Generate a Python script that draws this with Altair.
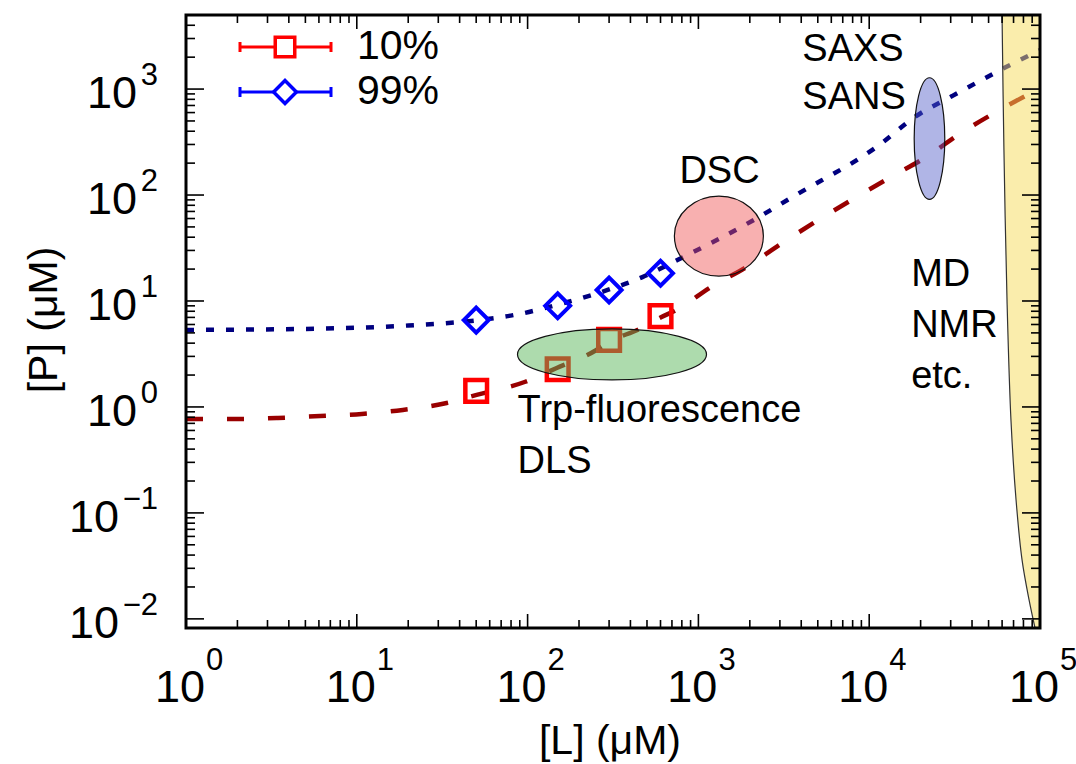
import altair as alt
import pandas as pd

# ---------------- data ----------------
L_points = [50, 150, 300, 600]
P_10 = [1.42, 2.27, 4.3, 7.2]
P_99 = [6.6, 9.0, 12.7, 18.3]

fit10_L = [1, 2, 3.45, 6.1, 10.7, 18.6, 33.6, 50.3, 96, 148, 253, 298, 452, 592, 743,
           1190, 1910, 3100, 13100, 21500, 34500, 55300, 100000]
fit10_P = [0.77, 0.77, 0.787, 0.822, 0.859, 0.937, 1.09, 1.30, 1.72, 2.33, 3.45, 4.1, 5.44, 6.91, 8.23,
           13.6, 20.9, 35.3, 145, 228, 385, 607, 1020]

fit99_L = [1, 4.64, 17.8, 52.4, 89.8, 148, 294, 470, 774, 2210, 3550, 11440, 18830, 30580, 63270, 100000]
fit99_P = [5.33, 5.44, 5.81, 6.62, 7.54, 9.17, 12.7, 16.8, 24.9, 60.7, 95.7, 296, 556, 859, 1613, 2333]

limit_P = [0.0082, 0.0151, 0.036, 0.133, 0.754, 10.2, 266, 5000]
limit_L = [93500, 86300, 78500, 72400, 67600, 64100, 61500, 59950]
L_max = 100000

ellipse_L = [312, 1318, 22540]
ellipse_P = [3.13, 41, 341]

label_text = ["SAXS", "SANS", "DSC", "Trp-fluorescence", "DLS", "MD", "NMR", "etc."]
label_L = [4060, 4060, 774, 87.4, 87.4, 17600, 17600, 17600]
label_P = [2330, 822, 165, 0.917, 0.303, 17.6, 5.81, 1.92]

x_major = [1, 10, 100, 1000, 10000, 100000]
x_exp = ["0", "1", "2", "3", "4", "5"]
y_major = [0.01, 0.1, 1, 10, 100, 1000]
y_exp = ["\u22122", "\u22121", "0", "1", "2", "3"]

legend_labels = ["10%", "99%"]

# ---------------- layout ----------------
W, H = 854, 613
FONT = "Liberation Sans"
xs = alt.Scale(type="log", domain=[1, 100000], nice=False)
ys = alt.Scale(type="log", domain=[0.0082, 5000], nice=False)


def X(f):
    return alt.X(f + ":Q", scale=xs, axis=None)


def Y(f):
    return alt.Y(f + ":Q", scale=ys, axis=None)


one = pd.DataFrame({"a": [0]})

layers = []

# fitted curves
df10 = pd.DataFrame({"L": fit10_L, "P": fit10_P})
df99 = pd.DataFrame({"L": fit99_L, "P": fit99_P})
layers.append(alt.Chart(df10).mark_line(color="#990000", strokeWidth=4.5, strokeDash=[17, 24],
                                         interpolate="monotone").encode(x=X("L"), y=Y("P")))
layers.append(alt.Chart(df99).mark_line(color="#00007f", strokeWidth=4.5, strokeDash=[8, 12],
                                         interpolate="monotone").encode(x=X("L"), y=Y("P")))

# markers
dpts = pd.DataFrame({"L": L_points, "P10": P_10, "P99": P_99})
layers.append(alt.Chart(dpts).mark_point(shape="square", filled=False, color="#ff0000", strokeWidth=4.5,
                                          size=470, opacity=1).encode(x=X("L"), y=Y("P10")))
layers.append(alt.Chart(dpts).mark_point(shape="diamond", filled=False, color="#0000ff", strokeWidth=4,
                                          size=620, opacity=1).encode(x=X("L"), y=Y("P99")))


# ellipses (semi-axes in pixels)
def ell_path(a, b):
    k = 0.5523
    f = lambda v: f"{v:.4f}"
    return (f"M{f(-a)},0C{f(-a)},{f(-k*b)} {f(-k*a)},{f(-b)} 0,{f(-b)}"
            f"C{f(k*a)},{f(-b)} {f(a)},{f(-k*b)} {f(a)},0"
            f"C{f(a)},{f(k*b)} {f(k*a)},{f(b)} 0,{f(b)}"
            f"C{f(-k*a)},{f(b)} {f(-a)},{f(k*b)} {f(-a)},0Z")


ell_style = [((94.5, 25.5), "#5cb85c", 0.5),
             ((44.5, 40.0), "#f05050", 0.45),
             ((15.3, 60.8), "#505ac8", 0.45)]
for i, ((rx, ry), col, op) in enumerate(ell_style):
    m = max(rx, ry)
    d = pd.DataFrame({"L": [ellipse_L[i]], "P": [ellipse_P[i]]})
    layers.append(alt.Chart(d).mark_point(shape=ell_path(rx / m, ry / m), size=(2 * m) ** 2, filled=True,
                                          fill=col, fillOpacity=op, stroke="#111111", strokeWidth=1.2,
                                          strokeOpacity=1, opacity=1).encode(x=X("L"), y=Y("P")))

# yellow limit region
dlim = pd.DataFrame({"L": limit_L, "P": limit_P, "Lmax": [L_max] * len(limit_L)})
layers.append(alt.Chart(dlim).mark_area(orient="horizontal", color="#f5dc5a", opacity=0.5,
                                         interpolate="catmull-rom").encode(
    y=Y("P"), x=X("L"), x2="Lmax:Q"))
layers.append(alt.Chart(dlim).mark_line(color="#333333", strokeWidth=1.2, interpolate="catmull-rom").encode(
    x=X("L"), y=Y("P"), order=alt.Order("P:Q")))

# annotations
dlab = pd.DataFrame({"t": label_text, "L": label_L, "P": label_P})
layers.append(alt.Chart(dlab).mark_text(align="left", baseline="middle", fontSize=38, font=FONT,
                                         color="black").encode(x=X("L"), y=Y("P"), text="t:N"))

# ticks (inward, mirrored)
x_minor = [m * 10 ** k for k in range(0, 5) for m in range(2, 10)]
y_minor = [m * 10.0 ** k for k in range(-2, 4) for m in range(2, 10) if m * 10.0 ** k < 5000]
dxM = pd.DataFrame({"v": x_major})
dxm = pd.DataFrame({"v": x_minor})
dyM = pd.DataFrame({"v": y_major})
dym = pd.DataFrame({"v": y_minor})
for dd, ln in ((dxM, 14), (dxm, 8)):
    layers.append(alt.Chart(dd).mark_rule(color="black", strokeWidth=1.6).encode(
        x=X("v"), y=alt.value(H), y2=alt.value(H - ln)))
    layers.append(alt.Chart(dd).mark_rule(color="black", strokeWidth=1.6).encode(
        x=X("v"), y=alt.value(0), y2=alt.value(ln)))
for dd, ln in ((dyM, 18), (dym, 9)):
    layers.append(alt.Chart(dd).mark_rule(color="black", strokeWidth=1.6).encode(
        y=Y("v"), x=alt.value(0), x2=alt.value(ln)))
    layers.append(alt.Chart(dd).mark_rule(color="black", strokeWidth=1.6).encode(
        y=Y("v"), x=alt.value(W), x2=alt.value(W - ln)))

# frame
layers.append(alt.Chart(one).mark_rect(fillOpacity=0, stroke="black", strokeWidth=3).encode(
    x=alt.value(0), x2=alt.value(W), y=alt.value(0), y2=alt.value(H)))

# tick labels
dxl = pd.DataFrame({"v": x_major, "e": x_exp})
layers.append(alt.Chart(dxl).mark_text(text="10", align="right", baseline="middle", fontSize=45, font=FONT,
                                        dx=19).encode(x=X("v"), y=alt.value(H + 60)))
layers.append(alt.Chart(dxl).mark_text(align="left", baseline="middle", fontSize=31, font=FONT,
                                        dx=20).encode(x=X("v"), y=alt.value(H + 33), text="e:N"))
dyl = pd.DataFrame({"v": y_major, "e": y_exp, "neg": [e.startswith("\u2212") for e in y_exp]})
layers.append(alt.Chart(dyl).mark_text(align="right", baseline="middle", fontSize=31, font=FONT,
                                        dy=-13).encode(x=alt.value(-28), y=Y("v"), text="e:N"))
layers.append(alt.Chart(dyl).transform_filter("!datum.neg").mark_text(
    text="10", align="right", baseline="middle", fontSize=45, font=FONT, dy=5).encode(
    x=alt.value(-49), y=Y("v")))
layers.append(alt.Chart(dyl).transform_filter("datum.neg").mark_text(
    text="10", align="right", baseline="middle", fontSize=45, font=FONT, dy=5).encode(
    x=alt.value(-67), y=Y("v")))

# axis titles
layers.append(alt.Chart(one).mark_text(text="[L] (\u03bcM)", align="center", baseline="middle", fontSize=41,
                                        font=FONT).encode(x=alt.value(424), y=alt.value(727)))
layers.append(alt.Chart(one).mark_text(text="[P] (\u03bcM)", align="center", baseline="middle", fontSize=41,
                                        font=FONT, angle=270).encode(x=alt.value(-141), y=alt.value(305)))

# legend
for row, (lab, col, shp, sz) in enumerate(((legend_labels[0], "#ff0000", "square", 380),
                                           (legend_labels[1], "#0000ff", "diamond", 520))):
    yy = 32 + 45 * row
    layers.append(alt.Chart(one).mark_rule(color=col, strokeWidth=3).encode(
        x=alt.value(54), x2=alt.value(145), y=alt.value(yy)))
    for xx in (54, 145):
        layers.append(alt.Chart(one).mark_rule(color=col, strokeWidth=3).encode(
            x=alt.value(xx), y=alt.value(yy - 5), y2=alt.value(yy + 5)))
    layers.append(alt.Chart(one).mark_point(shape=shp, filled=True, fill="white", stroke=col, strokeWidth=3.5,
                                            size=sz, opacity=1).encode(x=alt.value(99), y=alt.value(yy)))
    layers.append(alt.Chart(one).mark_text(text=lab, align="left", baseline="middle", fontSize=41,
                                           font=FONT).encode(x=alt.value(171), y=alt.value(yy)))

chart = alt.layer(*layers).properties(
    width=W, height=H,
    padding={"left": 186, "top": 15, "right": 36, "bottom": 136},
    autosize=alt.AutoSizeParams(type="none"),
    background="white",
).configure_view(stroke=None)

chart.save("out.html", embed_options={"renderer": "svg", "actions": False})
